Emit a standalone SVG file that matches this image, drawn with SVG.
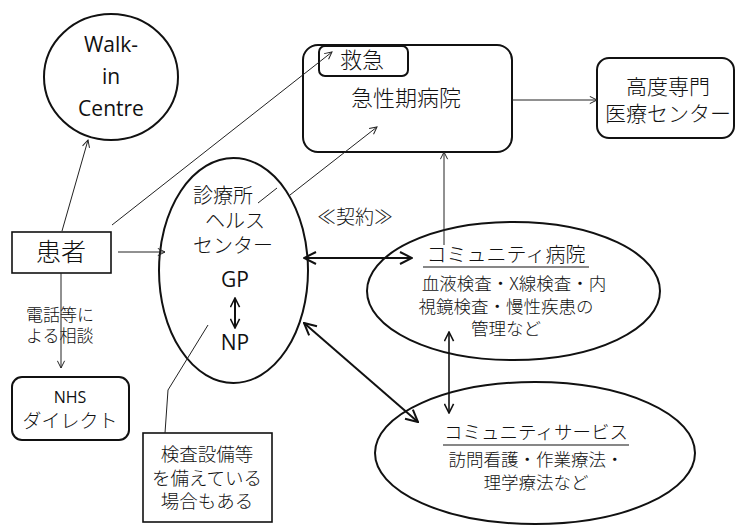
<svg xmlns="http://www.w3.org/2000/svg" width="738" height="525" viewBox="0 0 738 525">
<style>
text{font-family:"Noto Sans CJK JP","Noto Sans",sans-serif;font-weight:300;fill:#111;text-anchor:middle}
.lat{font-family:"Open Sans","Noto Sans","Noto Sans CJK JP",sans-serif;font-weight:400}
.shape{fill:#fff;stroke:#111;stroke-width:2}
.box{fill:#fff;stroke:#111;stroke-width:1.6}
.thin{fill:none;stroke:#222;stroke-width:1}
.thick{fill:none;stroke:#111;stroke-width:2}
.mid{fill:none;stroke:#111;stroke-width:1.6}
.ul{stroke:#111;stroke-width:1.2}
</style>
<defs>
<marker id="a" viewBox="0 0 10 10" refX="9" refY="5" markerWidth="9" markerHeight="9" markerUnits="userSpaceOnUse" orient="auto-start-reverse">
<path d="M1,1 L9,5 L1,9" fill="none" stroke="#222" stroke-width="1.1"/>
</marker>
<marker id="b" viewBox="0 0 14 14" refX="13" refY="7" markerWidth="14" markerHeight="14" markerUnits="userSpaceOnUse" orient="auto-start-reverse">
<path d="M1,1 L13,7 L1,13" fill="none" stroke="#111" stroke-width="2"/>
</marker>
<marker id="c" viewBox="0 0 12 12" refX="11" refY="6" markerWidth="11" markerHeight="11" markerUnits="userSpaceOnUse" orient="auto-start-reverse">
<path d="M1,1 L11,6 L1,11" fill="none" stroke="#111" stroke-width="1.7"/>
</marker>
</defs>

<g id="walkin">
<ellipse class="shape" cx="111" cy="77" rx="67" ry="63"/>
<text class="lat" x="111" y="52" font-size="21">Walk-</text>
<text class="lat" x="111" y="84" font-size="21">in</text>
<text class="lat" x="111" y="116" font-size="21">Centre</text>
</g>

<g id="acute">
<rect class="shape" x="303" y="45" width="209" height="107" rx="15"/>
<rect class="shape" x="319" y="46" width="89" height="30" rx="6"/>
<text x="362" y="68" font-size="22">救急</text>
<text x="406" y="106" font-size="22">急性期病院</text>
</g>

<g id="specialist">
<rect class="shape" x="597" y="58" width="137" height="80" rx="12"/>
<text x="668" y="94" font-size="21">高度専門</text>
<text x="668" y="121" font-size="21">医療センター</text>
</g>

<g id="patient">
<rect class="box" x="12" y="232" width="99" height="41"/>
<text x="61" y="261" font-size="25">患者</text>
</g>

<g id="nhs">
<rect class="shape" x="12" y="377" width="117" height="63" rx="10"/>
<text class="lat" x="70" y="403" font-size="16">NHS</text>
<text x="70" y="428" font-size="19">ダイレクト</text>
</g>

<g id="note">
<rect class="box" x="143" y="433" width="129" height="89"/>
<text x="207" y="461" font-size="18.5">検査設備等</text>
<text x="207" y="484.5" font-size="18.5">を備えている</text>
<text x="207" y="508" font-size="18.5">場合もある</text>
</g>

<g id="clinic">
<ellipse class="shape" cx="233.5" cy="270.5" rx="74.5" ry="112.5"/>
<text x="223" y="203" font-size="20">診療所</text>
<text x="235" y="228" font-size="20">ヘルス</text>
<text x="233" y="253" font-size="20">センター</text>
<text class="lat" x="235" y="287" font-size="21">GP</text>
<text class="lat" x="235" y="350" font-size="21">NP</text>
</g>

<g id="community-hospital">
<ellipse class="shape" cx="513.5" cy="291" rx="146.5" ry="69"/>
<text x="506" y="262" font-size="20">コミュニティ病院</text>
<line class="ul" x1="423" y1="267" x2="589" y2="267"/>
<text x="514" y="290" font-size="17.5">血液検査・X線検査・内</text>
<text x="506" y="313" font-size="17.5">視鏡検査・慢性疾患の</text>
<text x="506" y="335" font-size="17.5">管理など</text>
</g>

<g id="community-service">
<ellipse class="shape" cx="535" cy="453" rx="160" ry="71"/>
<text x="536" y="439" font-size="18.5">コミュニティサービス</text>
<line class="ul" x1="443" y1="445" x2="629" y2="445"/>
<text x="536" y="466" font-size="17.5">訪問看護・作業療法・</text>
<text x="536" y="489" font-size="17.5">理学療法など</text>
</g>

<g id="labels">
<text x="355" y="224" font-size="19">≪契約≫</text>
<text x="26" y="320.5" font-size="17" style="text-anchor:start">電話等に</text>
<text x="26" y="342" font-size="17" style="text-anchor:start">よる相談</text>
</g>

<g id="connectors">
<line class="thin" x1="62" y1="231" x2="88" y2="140" marker-end="url(#a)"/>
<line class="thin" x1="112" y1="225" x2="332" y2="52" marker-end="url(#a)"/>
<line class="thin" x1="118" y1="252" x2="165" y2="252" marker-end="url(#a)"/>
<line class="thin" x1="61" y1="273" x2="61" y2="368" marker-end="url(#a)"/>
<line class="thin" x1="290" y1="195" x2="377" y2="127" marker-end="url(#a)"/>
<line class="thin" x1="258" y1="203" x2="277" y2="188"/>
<line class="thin" x1="444" y1="245" x2="444" y2="152" marker-end="url(#a)"/>
<line class="thin" x1="512" y1="100" x2="597" y2="100" marker-end="url(#a)"/>
<line class="thick" x1="304" y1="258" x2="412" y2="258" marker-start="url(#b)" marker-end="url(#b)"/>
<line class="thick" x1="235" y1="298" x2="235" y2="328" marker-start="url(#c)" marker-end="url(#c)"/>
<line class="thick" x1="304" y1="323" x2="418" y2="422" marker-start="url(#b)" marker-end="url(#b)"/>
<line class="mid" x1="449" y1="332" x2="449" y2="413" marker-start="url(#c)" marker-end="url(#c)"/>
<polyline class="thin" points="165,433 168,390 208,325"/>
</g>
</svg>
